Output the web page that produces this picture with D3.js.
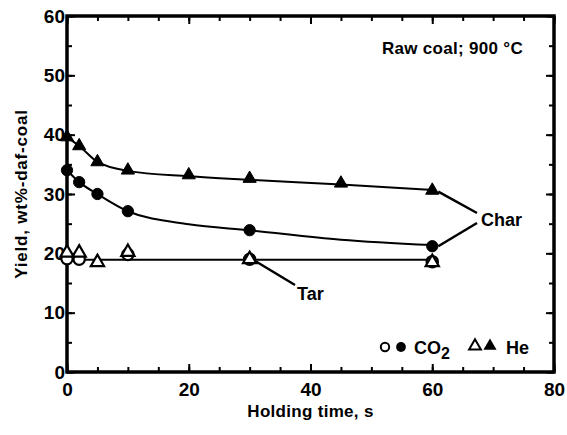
<!DOCTYPE html>
<html>
<head>
<meta charset="utf-8">
<script src="https://cdn.jsdelivr.net/npm/d3@7"></script>
<style>
body { margin: 0; background: #fff; }
svg text { font-family: "Liberation Sans", Arial, sans-serif; font-weight: bold; fill: #000; }
.axis path { display: none; }
.axis line { stroke: #000; stroke-width: 2; }
.axis text { font-size: 19px; font-family: "Liberation Sans", Arial, sans-serif; font-weight: bold; }
</style>
</head>
<body>
<svg id="chart" width="567" height="435"></svg>
<script>
// char yield, CO2 atmosphere (filled circles)
var charCO2Time = [0, 2, 5, 10, 30, 60];
var charCO2Yield = [34.0, 32.0, 30.0, 27.1, 23.9, 21.2];
// char yield, He atmosphere (filled triangles)
var charHeTime = [0, 2, 5, 10, 20, 30, 45, 60];
var charHeYield = [39.6, 38.1, 35.4, 34.0, 33.2, 32.6, 31.8, 30.6];
// tar yield, CO2 (open circles)
var tarCO2Time = [0, 2, 10, 30, 60];
var tarCO2Yield = [19.1, 19.0, 19.8, 19.0, 18.6];
// tar yield, He (open triangles)
var tarHeTime = [0, 2, 5, 10, 30, 60];
var tarHeYield = [20.1, 20.1, 18.5, 20.2, 19.0, 18.5];
// fitted curves drawn through the points
var charCO2CurveTime = [0, 2, 5, 10, 20, 30, 45, 60];
var charCO2CurveYield = [34.0, 32.0, 30.0, 27.1, 24.9, 23.9, 22.3, 21.4];
var charHeCurveTime = [0, 2, 5, 10, 20, 30, 45, 60];
var charHeCurveYield = [39.6, 38.1, 35.4, 33.9, 33.0, 32.4, 31.6, 30.7];
var tarCurveTime = [0, 60];
var tarCurveYield = [18.9, 18.9];

var xTicks = [0, 20, 40, 60, 80];
var yTicks = [0, 10, 20, 30, 40, 50, 60];

var svg = d3.select("#chart");
var mLeft = 67, mRight = 554, mTop = 16, mBottom = 372;

var x = d3.scaleLinear().domain([0, 80]).range([mLeft, mRight]);
var y = d3.scaleLinear().domain([0, 60]).range([mBottom, mTop]);

function pairs(ts, vs) { return ts.map(function(t, i) { return [t, vs[i]]; }); }

var minorX = d3.range(0, 81, 5), minorY = d3.range(0, 61, 5);

// axes, ticks pointing inwards
svg.append("g").attr("class", "axis").attr("transform", "translate(0," + mBottom + ")")
  .call(d3.axisBottom(x).tickValues(minorX).tickSize(-5).tickFormat(""));
svg.append("g").attr("class", "axis").attr("transform", "translate(0," + mBottom + ")")
  .call(d3.axisBottom(x).tickValues(xTicks).tickSize(-8).tickPadding(11).tickFormat(d3.format("d")));
svg.append("g").attr("class", "axis").attr("transform", "translate(0," + mTop + ")")
  .call(d3.axisTop(x).tickValues(minorX).tickSize(-5).tickFormat(""));
svg.append("g").attr("class", "axis").attr("transform", "translate(0," + mTop + ")")
  .call(d3.axisTop(x).tickValues(xTicks).tickSize(-8).tickFormat(""));
svg.append("g").attr("class", "axis").attr("transform", "translate(" + mLeft + ",0)")
  .call(d3.axisLeft(y).tickValues(minorY).tickSize(-5).tickFormat(""));
svg.append("g").attr("class", "axis").attr("transform", "translate(" + mLeft + ",0)")
  .call(d3.axisLeft(y).tickValues(yTicks).tickSize(-8).tickPadding(2).tickFormat(d3.format("d")));
svg.append("g").attr("class", "axis").attr("transform", "translate(" + mRight + ",0)")
  .call(d3.axisRight(y).tickValues(minorY).tickSize(-5).tickFormat(""));
svg.append("g").attr("class", "axis").attr("transform", "translate(" + mRight + ",0)")
  .call(d3.axisRight(y).tickValues(yTicks).tickSize(-8).tickFormat(""));

svg.append("rect").attr("x", mLeft).attr("y", mTop)
  .attr("width", mRight - mLeft).attr("height", mBottom - mTop)
  .attr("fill", "none").attr("stroke", "#000").attr("stroke-width", 3.5);

// curves
var line = d3.line().x(function(d) { return x(d[0]); }).y(function(d) { return y(d[1]); })
  .curve(d3.curveMonotoneX);
[[charHeCurveTime, charHeCurveYield], [charCO2CurveTime, charCO2CurveYield], [tarCurveTime, tarCurveYield]]
  .forEach(function(c) {
    svg.append("path").datum(pairs(c[0], c[1])).attr("d", line)
      .attr("fill", "none").attr("stroke", "#000").attr("stroke-width", 2);
  });

var tri = d3.symbol().type(d3.symbolTriangle).size(75);
var circ = d3.symbol().type(d3.symbolCircle).size(100);

function markers(ts, vs, sym, filled) {
  svg.append("g").selectAll("path").data(pairs(ts, vs)).join("path")
    .attr("transform", function(d) { return "translate(" + x(d[0]) + "," + y(d[1]) + ")"; })
    .attr("d", sym)
    .attr("fill", filled ? "#000" : "#fff")
    .attr("stroke", "#000").attr("stroke-width", filled ? 1 : 2.2);
}
markers(tarCO2Time, tarCO2Yield, circ, false);
markers(tarHeTime, tarHeYield, tri, false);
markers(charCO2Time, charCO2Yield, circ, true);
markers(charHeTime, charHeYield, tri, true);

// leader lines and labels
function leader(x1, y1, x2, y2) {
  svg.append("line").attr("x1", x1).attr("y1", y1).attr("x2", x2).attr("y2", y2)
    .attr("stroke", "#000").attr("stroke-width", 2.5);
}
leader(x(60) + 6, y(30.4), 477, 213);
leader(x(60) + 6, y(21.2), 477, 223);
leader(x(30) + 6, y(19) + 2, 295, 285);
svg.append("text").attr("x", 481).attr("y", 226).attr("font-size", 18).text("Char");
svg.append("text").attr("x", 297).attr("y", 300).attr("font-size", 18).text("Tar");

svg.append("text").attr("x", 523).attr("y", 54).attr("text-anchor", "end")
  .attr("font-size", 17).attr("letter-spacing", 0.3).text("Raw coal; 900 \u00b0C");

// legend
var ly = 347;
svg.append("path").attr("transform", "translate(385," + ly + ")").attr("d", d3.symbol().type(d3.symbolCircle).size(55))
  .attr("fill", "#fff").attr("stroke", "#000").attr("stroke-width", 2);
svg.append("path").attr("transform", "translate(401," + ly + ")").attr("d", d3.symbol().type(d3.symbolCircle).size(75))
  .attr("fill", "#000");
var co2 = svg.append("text").attr("x", 414).attr("y", ly + 7).attr("font-size", 18);
co2.append("tspan").text("CO");
co2.append("tspan").attr("dy", 5).attr("font-size", 16).text("2");
svg.append("path").attr("transform", "translate(475," + (ly - 1) + ")").attr("d", d3.symbol().type(d3.symbolTriangle).size(60))
  .attr("fill", "#fff").attr("stroke", "#000").attr("stroke-width", 2);
svg.append("path").attr("transform", "translate(490," + (ly - 1) + ")").attr("d", d3.symbol().type(d3.symbolTriangle).size(75))
  .attr("fill", "#000");
svg.append("text").attr("x", 506).attr("y", ly + 7).attr("font-size", 18).text("He");

// axis titles
svg.append("text").attr("x", (mLeft + mRight) / 2).attr("y", 417).attr("text-anchor", "middle")
  .attr("font-size", 17).attr("letter-spacing", 0.3).text("Holding time, s");
svg.append("text").attr("transform", "translate(27," + ((mTop + mBottom) / 2) + ") rotate(-90)")
  .attr("text-anchor", "middle").attr("font-size", 17).attr("letter-spacing", 0.8).text("Yield, wt%-daf-coal");
</script>
</body>
</html>
